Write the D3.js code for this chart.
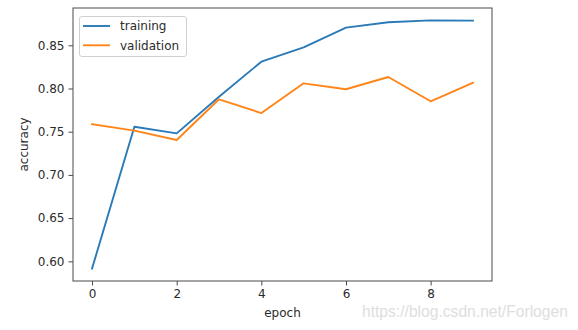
<!DOCTYPE html>
<html>
<head>
<meta charset="utf-8">
<script src="https://cdn.jsdelivr.net/npm/d3@7"></script>
<style>
  html, body { margin: 0; padding: 0; background: #fff; }
  svg { display: block; }
  text { font-family: "DejaVu Sans", sans-serif; }
</style>
</head>
<body>
<svg id="chart" width="578" height="330"></svg>
<script>
// Accuracy per epoch for the training and validation sets
const epochs = [0, 1, 2, 3, 4, 5, 6, 7, 8, 9];
const training = [0.5916, 0.7558, 0.7481, 0.7905, 0.831, 0.8477, 0.8704, 0.8766, 0.8788, 0.8785];
const validation = [0.7586, 0.7512, 0.7404, 0.7875, 0.7716, 0.806, 0.7991, 0.8133, 0.7852, 0.8067];
const xTicks = [0, 2, 4, 6, 8];
const yTicks = [0.60, 0.65, 0.70, 0.75, 0.80, 0.85];
const seriesNames = ["training", "validation"];
const seriesColors = ["#2a7ab8", "#ff8518"];

const plot = { left: 73, top: 8, right: 492, bottom: 281 };

const svg = d3.select("#chart");

// Axis limits padded by 5% of the data range on each side
const xPad = (d3.max(epochs) - d3.min(epochs)) * 0.05;
const allVals = training.concat(validation);
const yPad = (d3.max(allVals) - d3.min(allVals)) * 0.05;

const x = d3.scaleLinear()
  .domain([d3.min(epochs) - xPad, d3.max(epochs) + xPad])
  .range([plot.left, plot.right]);
const y = d3.scaleLinear()
  .domain([d3.min(allVals) - yPad, d3.max(allVals) + yPad])
  .range([plot.bottom, plot.top]);

const spineColor = "#4a4a4a";
const labelColor = "#2b2b2b";

// Lines
const line = d3.line()
  .x((d, i) => x(epochs[i]))
  .y(d => y(d));

[training, validation].forEach((vals, k) => {
  svg.append("path")
    .datum(vals)
    .attr("d", line)
    .attr("fill", "none")
    .attr("stroke", seriesColors[k])
    .attr("stroke-width", 1.9)
    .attr("stroke-linejoin", "round")
    .attr("stroke-linecap", "square");
});

// Axes
const xAxis = d3.axisBottom(x)
  .tickValues(xTicks)
  .tickFormat(d3.format("d"))
  .tickSize(4.5)
  .tickPadding(4);
const yAxis = d3.axisLeft(y)
  .tickValues(yTicks)
  .tickFormat(d3.format(".2f"))
  .tickSize(4.5)
  .tickPadding(4);

const gx = svg.append("g")
  .attr("transform", `translate(0,${plot.bottom})`)
  .call(xAxis);
const gy = svg.append("g")
  .attr("transform", `translate(${plot.left},0)`)
  .call(yAxis);

[gx, gy].forEach(g => {
  g.select(".domain").remove();
  g.selectAll(".tick line").attr("stroke", spineColor).attr("stroke-width", 1);
  g.selectAll(".tick text")
    .attr("fill", labelColor)
    .style("font-size", "12px")
    .style("font-family", "'DejaVu Sans', sans-serif");
});

// Frame around the plotting area
svg.append("rect")
  .attr("x", plot.left)
  .attr("y", plot.top)
  .attr("width", plot.right - plot.left)
  .attr("height", plot.bottom - plot.top)
  .attr("fill", "none")
  .attr("stroke", spineColor)
  .attr("stroke-width", 1);

// Axis titles
svg.append("text")
  .attr("x", (plot.left + plot.right) / 2)
  .attr("y", 317)
  .attr("text-anchor", "middle")
  .attr("fill", labelColor)
  .style("font-size", "12px")
  .text("epoch");

svg.append("text")
  .attr("transform", `translate(28,${(plot.top + plot.bottom) / 2}) rotate(-90)`)
  .attr("text-anchor", "middle")
  .attr("fill", labelColor)
  .style("font-size", "12px")
  .text("accuracy");

// Legend
const legend = svg.append("g").attr("transform", "translate(79,16)");
legend.append("rect")
  .attr("x", 0.5).attr("y", 0.5)
  .attr("width", 107).attr("height", 40)
  .attr("rx", 2.5)
  .attr("fill", "#fff")
  .attr("fill-opacity", 0.8)
  .attr("stroke", "#d0d0d0")
  .attr("stroke-width", 1);

seriesNames.forEach((name, i) => {
  const cy = 10 + i * 19.3;
  legend.append("line")
    .attr("x1", 4).attr("x2", 31)
    .attr("y1", cy).attr("y2", cy)
    .attr("stroke", seriesColors[i])
    .attr("stroke-width", 1.9);
  legend.append("text")
    .attr("x", 41)
    .attr("y", cy + 4.3)
    .attr("fill", labelColor)
    .style("font-size", "12px")
    .text(name);
});

// Site watermark in the lower right corner
const wm = svg.append("text")
  .attr("x", 362)
  .attr("y", 317)
  .attr("fill", "#dedede")
  .style("font-family", "'Liberation Sans', Arial, sans-serif")
  .style("font-size", "15px")
  .text("https://blog.csdn.net/Forlogen");
const wmLen = wm.node().getComputedTextLength();
wm.style("font-size", (15 * 206 / wmLen).toFixed(2) + "px");
</script>
</body>
</html>
